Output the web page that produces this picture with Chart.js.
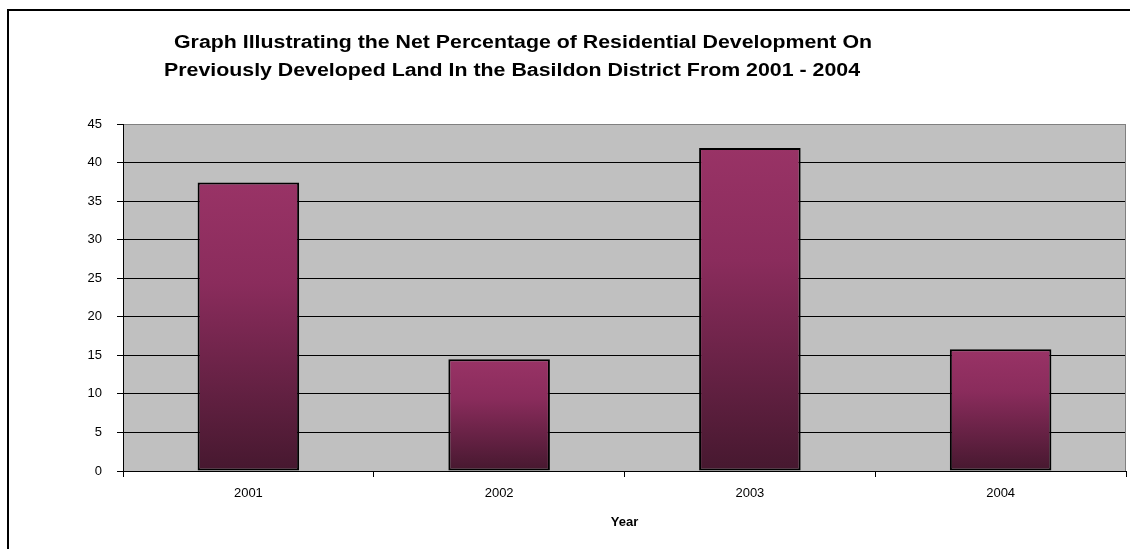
<!DOCTYPE html>
<html>
<head>
<meta charset="utf-8">
<script src="https://cdn.jsdelivr.net/npm/chart.js@4/dist/chart.umd.min.js"></script>
<style>
  html, body { margin: 0; padding: 0; background: #ffffff; }
  #wrap { width: 1130px; height: 549px; }
</style>
</head>
<body>
<div id="wrap"><canvas id="c" width="1130" height="549"></canvas></div>
<script>
// Net % of residential development on previously developed land, Basildon
const years = ['2001', '2002', '2003', '2004'];
const netPercentage = [37.4, 14.5, 41.9, 15.8];
const yTickValues = [0, 5, 10, 15, 20, 25, 30, 35, 40, 45];
const titleLines = [
  'Graph Illustrating the Net Percentage of Residential Development On',
  'Previously Developed Land In the Basildon District From 2001 - 2004'
];
const xAxisTitle = 'Year';

const BAR_TOP = '#993366';
const BAR_BOTTOM = '#46182f';
const PLOT_BG = '#c0c0c0';
const FONT = '"Liberation Sans", Arial, sans-serif';

// Plot background, frame and the two-line heading
const decorPlugin = {
  id: 'decor',
  beforeDraw(chart) {
    const { ctx, chartArea: a } = chart;
    ctx.save();
    ctx.fillStyle = PLOT_BG;
    ctx.fillRect(a.left, a.top, a.right - a.left, a.bottom - a.top);
    ctx.restore();
  },
  afterDraw(chart) {
    const { ctx, chartArea: a } = chart;
    ctx.save();
    // right edge of the plot
    ctx.strokeStyle = '#808080';
    ctx.lineWidth = 1;
    ctx.beginPath();
    ctx.moveTo(a.right - 0.5, a.top);
    ctx.lineTo(a.right - 0.5, a.bottom);
    ctx.stroke();
    // outer frame
    ctx.strokeStyle = '#000000';
    ctx.lineWidth = 2;
    ctx.strokeRect(8, 10, 1200, 600);
    // heading, each line fitted to its width
    ctx.fillStyle = '#000000';
    ctx.textBaseline = 'alphabetic';
    ctx.textAlign = 'left';
    ctx.font = 'bold 18px ' + FONT;
    const spots = [{ x: 174, y: 48, w: 698 }, { x: 164, y: 76, w: 696 }];
    titleLines.forEach((t, i) => {
      const s = spots[i];
      const m = ctx.measureText(t).width;
      ctx.save();
      ctx.translate(s.x, s.y);
      ctx.scale(s.w / m, 1);
      ctx.fillText(t, 0, 0);
      ctx.restore();
    });
    ctx.restore();
  }
};

function barGradient(context) {
  const chart = context.chart;
  const { chartArea, scales } = chart;
  if (!chartArea || context.type !== 'data') return BAR_TOP;
  const yTop = scales.y.getPixelForValue(context.raw);
  const yBase = scales.y.getPixelForValue(0);
  const g = chart.ctx.createLinearGradient(0, yTop, 0, yBase);
  g.addColorStop(0, BAR_TOP);
  g.addColorStop(0.35, '#8a2c5c');
  g.addColorStop(1, BAR_BOTTOM);
  return g;
}

new Chart(document.getElementById('c'), {
  type: 'bar',
  data: {
    labels: years,
    datasets: [{
      data: netPercentage,
      backgroundColor: barGradient,
      borderColor: '#000000',
      borderWidth: 2,
      borderSkipped: false,
      barPercentage: 0.405,
      categoryPercentage: 1.0
    }]
  },
  options: {
    responsive: false,
    devicePixelRatio: 1,
    animation: false,
    layout: { padding: { top: 124, right: 4, bottom: 0, left: 0 } },
    plugins: {
      legend: { display: false },
      tooltip: { enabled: false },
      title: { display: false }
    },
    scales: {
      x: {
        grid: {
          offset: true,
          drawOnChartArea: false,
          drawTicks: true,
          tickLength: 6,
          color: '#000000'
        },
        border: { display: true, color: '#000000', width: 1 },
        ticks: {
          color: '#000000',
          font: { family: FONT, size: 13 },
          padding: 9
        },
        title: {
          display: true,
          text: xAxisTitle,
          color: '#000000',
          font: { family: FONT, size: 13, weight: 'bold' },
          padding: { top: 0, bottom: 19 }
        },
        afterFit(scale) { scale.height = 78; }
      },
      y: {
        min: 0,
        max: 45,
        afterBuildTicks(scale) { scale.ticks = yTickValues.map(v => ({ value: v })); },
        grid: {
          color: (c) => (c.tick && c.tick.value === 45 ? '#808080' : '#000000'),
          tickColor: '#000000',
          tickLength: 6,
          lineWidth: 1
        },
        border: { display: true, color: '#000000', width: 1 },
        ticks: {
          color: '#000000',
          font: { family: FONT, size: 13 },
          padding: 15
        },
        afterFit(scale) { scale.width = 123; }
      }
    }
  },
  plugins: [decorPlugin]
});
</script>
</body>
</html>
